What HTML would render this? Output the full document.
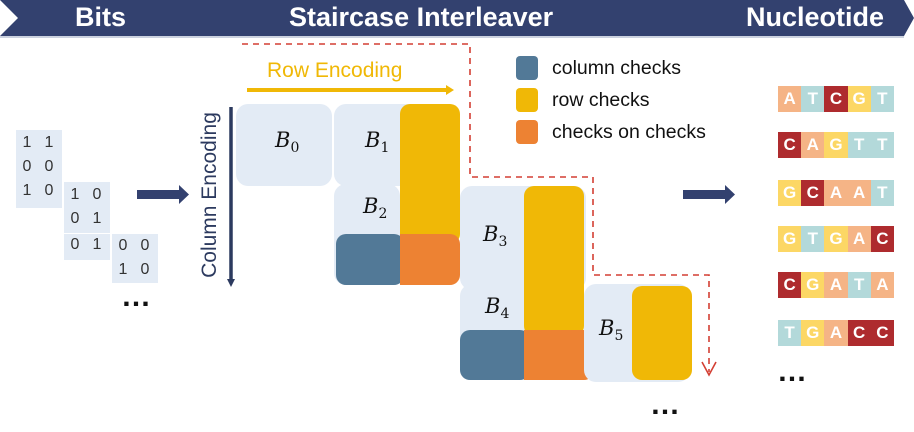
<!DOCTYPE html>
<html><head><meta charset="utf-8"><style>
body{margin:0;width:914px;height:432px;background:#fff;position:relative;overflow:hidden;font-family:"Liberation Sans",Arial,sans-serif}
.a{position:absolute}
.l{position:absolute;background:#e3ebf5;border-radius:12px}
.y{position:absolute;background:#f0b806;border-radius:10px}
.b{position:absolute;background:#527997;border-radius:10px}
.o{position:absolute;background:#ed8233;border-radius:10px}
.B{position:absolute;font-family:"DejaVu Serif","Liberation Serif",serif;font-style:italic;font-size:21px;color:#111}
.B sub{font-style:normal;font-size:14px;vertical-align:-5px}
.m{position:absolute;background:#e3ebf5;font-size:16px;color:#333;line-height:24px}
.m span{display:inline-block;width:22px;text-align:center}
.n{position:absolute;left:778px;height:26px;display:flex}
.n div{width:23.2px;height:26px;color:#fff;font-weight:bold;font-size:17px;text-align:center;line-height:26px}
.A{background:#f5b486}.T{background:#b3d9da}.C{background:#ae2b2e}.G{background:#fcd765}
.dots{position:absolute;font-size:30px;font-weight:bold;letter-spacing:1px;color:#111;line-height:30px}
.h{position:absolute;top:2px;font-size:27px;font-weight:bold;color:#fff}
</style></head><body>
<svg class="a" style="left:0;top:0" width="914" height="432">
<polygon points="0,0 904,0 914,18 904,36 0,36 18,18" fill="#33416f"/>
<line x1="0" y1="37" x2="904" y2="37" stroke="#9aa5bf" stroke-width="1"/>
<polyline points="242,44 470,44 470,177 593,177 593,275 709,275 709,372" fill="none" stroke="#d33f33" stroke-width="1.6" stroke-dasharray="6,5"/>
<polyline points="702,362 709,375 716,362" fill="none" stroke="#d33f33" stroke-width="1.6"/>
<line x1="247" y1="90" x2="446" y2="90" stroke="#f0b806" stroke-width="4"/>
<polygon points="446,85 454,90 446,95" fill="#f0b806"/>
<line x1="231" y1="107" x2="231" y2="279" stroke="#2c3a5f" stroke-width="3.5"/>
<polygon points="227,279 231,287 235,279" fill="#2c3a5f"/>
<rect x="137" y="190" width="43" height="9" fill="#33416f"/>
<polygon points="179,185 189,194.5 179,204" fill="#33416f"/>
<rect x="683" y="190" width="43" height="9" fill="#33416f"/>
<polygon points="725,185 735,194.5 725,204" fill="#33416f"/>
</svg>
<div class="h" style="left:75px">Bits</div>
<div class="h" style="left:289px">Staircase Interleaver</div>
<div class="h" style="left:746px">Nucleotide</div>
<div class="a" style="left:267px;top:59px;font-size:21px;color:#f0b806">Row Encoding</div>
<div class="a" style="left:110px;top:183px;width:200px;text-align:center;transform:rotate(-90deg);font-size:21px;color:#2c3a5f;line-height:24px">Column Encoding</div>

<div class="l" style="left:236px;top:104px;width:96px;height:82px"></div>
<div class="l" style="left:334px;top:104px;width:126px;height:82px"></div>
<div class="l" style="left:334px;top:184px;width:66px;height:101px"></div>
<div class="y" style="left:400px;top:104px;width:60px;height:140px"></div>
<div class="b" style="left:336px;top:234px;width:68px;height:51px"></div>
<div class="o" style="left:400px;top:234px;width:60px;height:51px;border-radius:0 10px 10px 0"></div>
<div class="B" style="left:275px;top:128px">B<sub>0</sub></div>
<div class="B" style="left:365px;top:128px">B<sub>1</sub></div>
<div class="B" style="left:363px;top:194px">B<sub>2</sub></div>

<div class="l" style="left:460px;top:186px;width:126px;height:104px"></div>
<div class="l" style="left:460px;top:284px;width:70px;height:96px"></div>
<div class="y" style="left:524px;top:186px;width:60px;height:150px"></div>
<div class="b" style="left:460px;top:330px;width:70px;height:50px"></div>
<div class="o" style="left:524px;top:330px;width:70px;height:50px;border-radius:0 10px 10px 0"></div>
<div class="B" style="left:483px;top:222px">B<sub>3</sub></div>
<div class="B" style="left:485px;top:294px">B<sub>4</sub></div>

<div class="l" style="left:584px;top:284px;width:106px;height:98px"></div>
<div class="y" style="left:632px;top:286px;width:60px;height:94px"></div>
<div class="B" style="left:599px;top:316px">B<sub>5</sub></div>

<div class="b" style="left:516px;top:56px;width:22px;height:24px;border-radius:4px"></div>
<div class="y" style="left:516px;top:88px;width:22px;height:24px;border-radius:4px"></div>
<div class="o" style="left:516px;top:120px;width:22px;height:24px;border-radius:4px"></div>
<div class="a" style="left:552px;top:57px;font-size:19.5px;color:#111">column checks</div>
<div class="a" style="left:552px;top:89px;font-size:19.5px;color:#111">row checks</div>
<div class="a" style="left:552px;top:121px;font-size:19.5px;color:#111">checks on checks</div>

<div class="m" style="left:16px;top:130px;width:46px;height:77px;padding-top:1px"><span>1</span><span>1</span><br><span>0</span><span>0</span><br><span>1</span><span>0</span></div>
<div class="m" style="left:64px;top:182px;width:46px;height:50px;padding-top:1px"><span>1</span><span>0</span><br><span>0</span><span>1</span></div>
<div class="m" style="left:64px;top:234px;width:46px;height:26px;line-height:22px"><span>0</span><span>1</span></div>
<div class="m" style="left:112px;top:234px;width:46px;height:49px;line-height:24px"><span>0</span><span>0</span><br><span>1</span><span>0</span></div>

<div class="dots" style="left:121px;top:282px">…</div>
<div class="dots" style="left:650px;top:390px">…</div>
<div class="dots" style="left:777px;top:357px">…</div>

<div class="n" style="top:86px"><div class="A">A</div><div class="T">T</div><div class="C">C</div><div class="G">G</div><div class="T">T</div></div>
<div class="n" style="top:132px"><div class="C">C</div><div class="A">A</div><div class="G">G</div><div class="T">T</div><div class="T">T</div></div>
<div class="n" style="top:180px"><div class="G">G</div><div class="C">C</div><div class="A">A</div><div class="A">A</div><div class="T">T</div></div>
<div class="n" style="top:226px"><div class="G">G</div><div class="T">T</div><div class="G">G</div><div class="A">A</div><div class="C">C</div></div>
<div class="n" style="top:272px"><div class="C">C</div><div class="G">G</div><div class="A">A</div><div class="T">T</div><div class="A">A</div></div>
<div class="n" style="top:320px"><div class="T">T</div><div class="G">G</div><div class="A">A</div><div class="C">C</div><div class="C">C</div></div>
</body></html>
